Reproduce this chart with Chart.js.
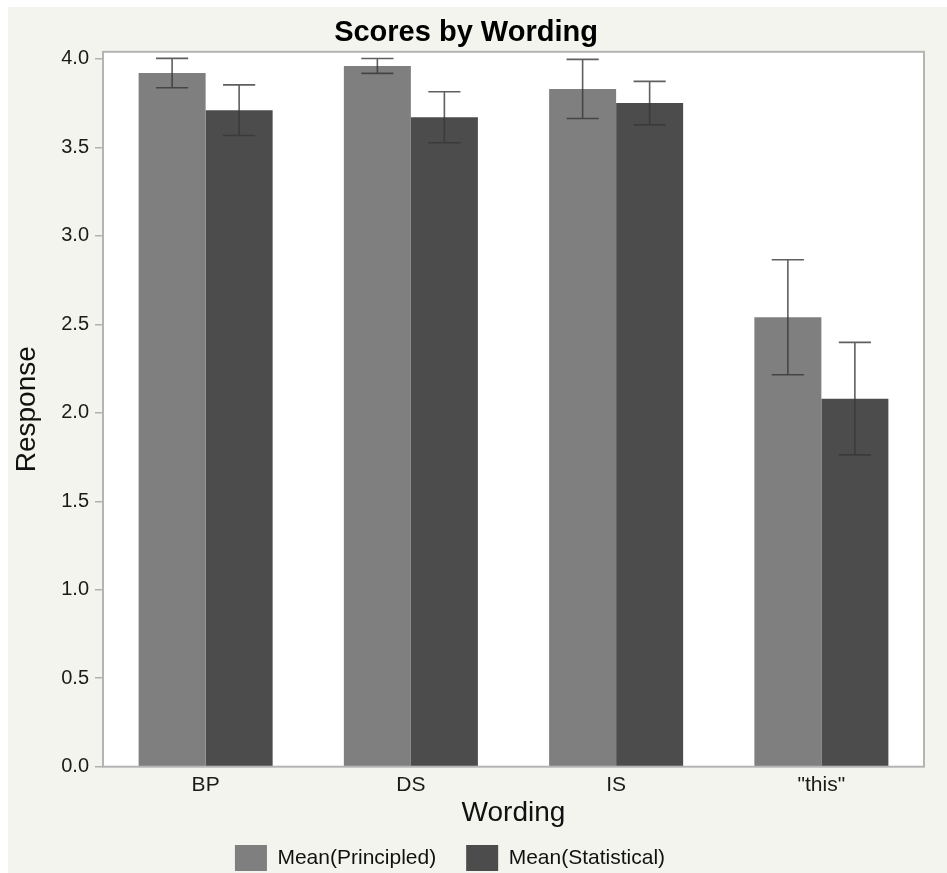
<!DOCTYPE html>
<html>
<head>
<meta charset="utf-8">
<title>Scores by Wording</title>
<script src="https://cdn.jsdelivr.net/npm/chart.js@4.4.1/dist/chart.umd.min.js"></script>
<style>
  html, body { margin: 0; padding: 0; background: #ffffff; overflow: hidden; }
  #chart { position: absolute; left: 8px; top: 7px; }
</style>
</head>
<body>
<canvas id="chart" width="939" height="874"></canvas>
<script>
// Wording categories and the mean response for each question style
const categories = ['BP', 'DS', 'IS', '"this"'];
const principledMeans = [3.92, 3.96, 3.83, 2.54];
const statisticalMeans = [3.71, 3.67, 3.75, 2.08];
// Half-length of each error bar
const principledErr = [0.083, 0.042, 0.167, 0.325];
const statisticalErr = [0.143, 0.144, 0.123, 0.318];
// Response axis ticks
const yTickValues = [0, 0.5, 1.0, 1.5, 2.0, 2.5, 3.0, 3.5, 4.0];

const PANEL_BG = '#f4f4ee';
const FRAME = '#b4b4b4';
const FONT = "'Liberation Sans', Arial, Helvetica, sans-serif";

Chart.defaults.font.family = FONT;
Chart.defaults.color = '#1a1a1a';

// Panel background and white plot area
const backgroundPlugin = {
  id: 'panelBackground',
  beforeDraw(chart) {
    const { ctx, chartArea: a } = chart;
    ctx.save();
    ctx.fillStyle = PANEL_BG;
    ctx.fillRect(0, 0, chart.width, chart.height);
    ctx.fillStyle = '#ffffff';
    ctx.fillRect(a.left, a.top, a.right - a.left, a.bottom - a.top);
    ctx.restore();
  }
};

// Frame around the plot area
const framePlugin = {
  id: 'plotFrame',
  afterDraw(chart) {
    const { ctx, chartArea: a } = chart;
    ctx.save();
    ctx.strokeStyle = FRAME;
    ctx.lineWidth = 2;
    ctx.strokeRect(a.left, a.top, a.right - a.left, a.bottom - a.top);
    ctx.restore();
  }
};

// Error bars centred on each bar
const errorBarPlugin = {
  id: 'errorBars',
  afterDatasetsDraw(chart) {
    const { ctx } = chart;
    const yScale = chart.scales.y;
    const errs = [principledErr, statisticalErr];
    ctx.save();
    ctx.strokeStyle = 'rgba(55,55,55,0.8)';
    ctx.lineWidth = 1.6;
    chart.data.datasets.forEach((ds, i) => {
      const meta = chart.getDatasetMeta(i);
      meta.data.forEach((bar, j) => {
        const v = ds.data[j];
        const e = errs[i][j];
        const yTop = yScale.getPixelForValue(v + e);
        const yBot = yScale.getPixelForValue(v - e);
        const half = bar.width * 0.24;
        ctx.beginPath();
        ctx.moveTo(bar.x, yTop);
        ctx.lineTo(bar.x, yBot);
        ctx.moveTo(bar.x - half, yTop);
        ctx.lineTo(bar.x + half, yTop);
        ctx.moveTo(bar.x - half, yBot);
        ctx.lineTo(bar.x + half, yBot);
        ctx.stroke();
      });
    });
    ctx.restore();
  }
};

// Nudge the legend row left so it sits under the plot like the panel layout
const legendPlacePlugin = {
  id: 'legendPlace',
  afterLayout(chart) {
    const lg = chart.legend;
    if (lg) {
      lg.left -= 16;
      lg.right -= 16;
    }
  }
};

new Chart(document.getElementById('chart'), {
  type: 'bar',
  data: {
    labels: categories,
    datasets: [
      {
        label: 'Mean(Principled)',
        data: principledMeans,
        backgroundColor: '#7f7f7f',
        borderWidth: 0,
        categoryPercentage: 0.653,
        barPercentage: 1.0
      },
      {
        label: 'Mean(Statistical)',
        data: statisticalMeans,
        backgroundColor: '#4c4c4c',
        borderWidth: 0,
        categoryPercentage: 0.653,
        barPercentage: 1.0
      }
    ]
  },
  options: {
    responsive: false,
    animation: false,
    devicePixelRatio: 1,
    layout: { padding: { left: 0, right: 23, top: 0, bottom: 0 } },
    plugins: {
      title: {
        display: true,
        text: 'Scores by Wording',
        color: '#000000',
        font: { size: 29, weight: 'bold', family: FONT },
        padding: { top: 9, bottom: 1 }
      },
      legend: {
        position: 'bottom',
        labels: {
          boxWidth: 32,
          boxHeight: 26,
          padding: 30,
          color: '#111111',
          font: { size: 21, family: FONT }
        }
      },
      tooltip: { enabled: false }
    },
    scales: {
      x: {
        grid: { display: false },
        border: { display: false },
        ticks: {
          padding: -2,
          color: '#1a1a1a',
          font: { size: 21, family: FONT }
        },
        title: {
          display: true,
          text: 'Wording',
          color: '#111111',
          font: { size: 28, family: FONT },
          padding: { top: 0, bottom: -15 }
        },
        afterFit(scale) { scale.height = 48.3; }
      },
      y: {
        min: 0,
        max: 4.04,
        grid: {
          drawOnChartArea: false,
          drawTicks: true,
          tickLength: 8,
          color: '#b0b0b0',
          lineWidth: 1.5
        },
        border: { display: false },
        ticks: {
          padding: 6,
          color: '#1a1a1a',
          font: { size: 20, family: FONT },
          callback: (v) => Number(v).toFixed(1)
        },
        afterBuildTicks(scale) {
          scale.ticks = yTickValues.map(v => ({ value: v }));
        },
        title: {
          display: true,
          text: 'Response',
          color: '#111111',
          font: { size: 28, family: FONT },
          padding: { top: 2, bottom: 0 }
        },
        afterFit(scale) { scale.width = 95; }
      }
    }
  },
  plugins: [backgroundPlugin, errorBarPlugin, framePlugin, legendPlacePlugin]
});
</script>
</body>
</html>
